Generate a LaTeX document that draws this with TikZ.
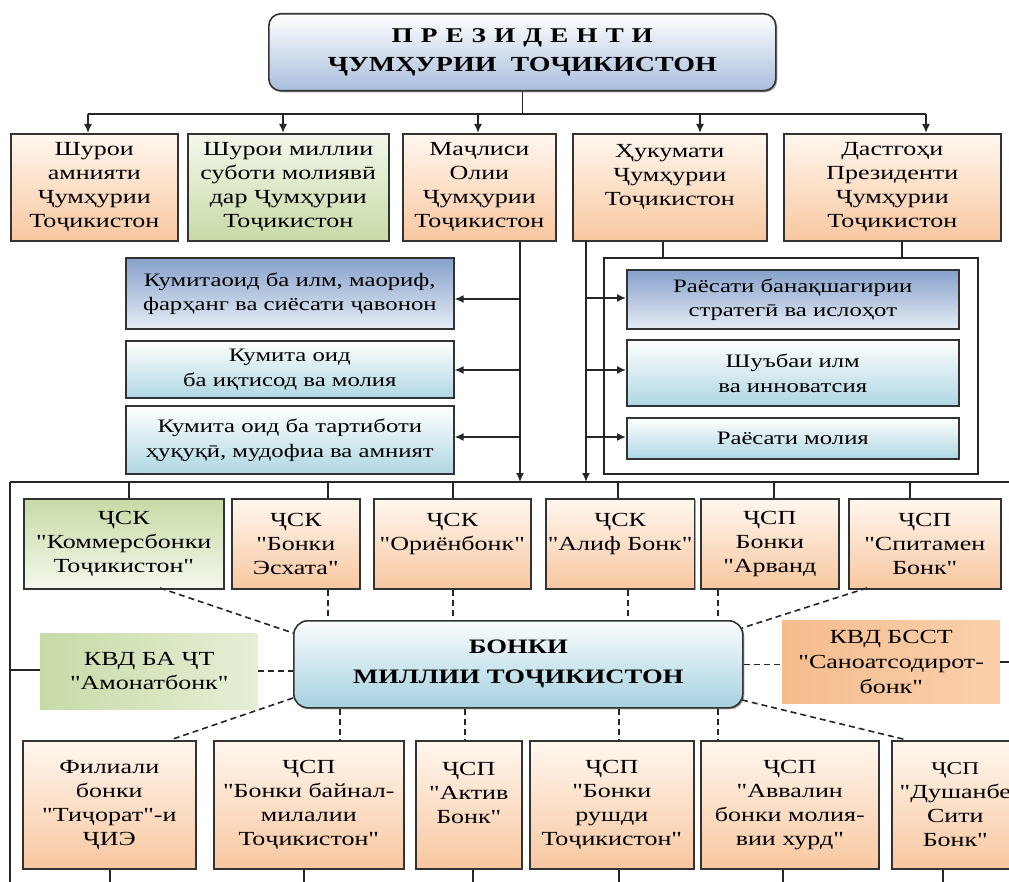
\documentclass[tikz,border=0pt]{standalone}
\usepackage{fontspec}
\setmainfont{Liberation Serif}[FakeStretch=1.3, Ligatures=TeXOff]
\usetikzlibrary{arrows.meta,shadows}
\definecolor{orT}{HTML}{FFF7EF}
\definecolor{orB}{HTML}{F8C7A0}
\definecolor{grT}{HTML}{F4F8EC}
\definecolor{grB}{HTML}{C7DAA6}
\definecolor{dbT}{HTML}{86A1CB}
\definecolor{dbB}{HTML}{E6ECF5}
\definecolor{lbB}{HTML}{AFD7E3}
\definecolor{cnB}{HTML}{A6D1E1}
\definecolor{ttB}{HTML}{A9BEDD}
\definecolor{saL}{HTML}{F6BC8E}
\definecolor{saR}{HTML}{FAD0AC}
\tikzset{
  box/.style={draw=black!80, line width=1.6pt, align=center, inner sep=2pt,
    font=\fontsize{20}{24}\selectfont,
    drop shadow={shadow xshift=1.5pt, shadow yshift=-1.5pt, fill=black, opacity=0.35}},
  orangebox/.style={box, top color=orT, bottom color=orB},
  greenbox/.style={box, top color=grT, bottom color=grB},
  greentop/.style={box, top color=grB, bottom color=grT},
  dbluebox/.style={box, top color=dbT, bottom color=dbB, font=\fontsize{19}{24}\selectfont},
  lbluebox/.style={box, top color=white, bottom color=lbB, font=\fontsize{19}{25}\selectfont},
  titlebox/.style={box, rounded corners=12pt, top color=white, bottom color=ttB},
  centralbox/.style={box, rounded corners=14pt, top color=white!95!lbB, bottom color=cnB,
    font=\fontsize{20.5}{30}\selectfont\bfseries},
  greenflat/.style={align=center, inner sep=2pt, font=\fontsize{20}{24}\selectfont,
    left color=grB, right color=grT!70!grB},
  orangeflat/.style={align=center, inner sep=2pt, font=\fontsize{20}{25}\selectfont,
    left color=saL, right color=saR},
  contbox/.style={draw=black!85, line width=1.6pt},
  conn/.style={line width=1.6pt, draw=black!85},
  arr/.style={conn, -{Latex[length=9pt,width=8pt]}},
  dconn/.style={conn, dash pattern=on 6pt off 4pt},
}
\newcommand\bx[7]{\pgfmathsetmacro\bxw{#4-#2}\pgfmathsetmacro\bxh{#5-#3}%
  \node[#6, minimum width=\bxw pt, minimum height=\bxh pt, anchor=north west] (#1) at (#2,#3) {#7};}
\newcommand\ls{\hspace{0.38em}}
\begin{document}
\begin{tikzpicture}[x=1pt,y=-1pt]
\clip (0,0) rectangle (1009,882);
\fill[white] (0,0) rectangle (1009,882);
% title
\bx{pres}{268}{13}{775}{90}{titlebox}{{\fontsize{21}{24}\selectfont\bfseries П\ls Р\ls Е\ls З\ls И\ls Д\ls Е\ls Н\ls Т\ls И}\\[5pt]{\fontsize{21.5}{26}\selectfont\bfseries ҶУМҲУРИИ\ \ ТОҶИКИСТОН}}
% row 1
\bx{A}{10}{133}{177}{240}{orangebox}{Шурои\\амнияти\\Ҷумҳурии\\Тоҷикистон}
\bx{B}{187}{133}{388}{240}{greenbox}{Шурои миллии\\суботи молиявӣ\\дар Ҷумҳурии\\Тоҷикистон}
\bx{C}{402}{133}{555}{240}{orangebox}{Маҷлиси\\Олии\\Ҷумҳурии\\Тоҷикистон}
\bx{D}{572}{133}{766}{240}{orangebox}{Ҳукумати\\Ҷумҳурии\\Тоҷикистон\\\mbox{}}
\bx{E}{783}{133}{1000}{240}{orangebox}{Дастгоҳи\\Президенти\\Ҷумҳурии\\Тоҷикистон}
% top connectors
\coordinate (hL) at (88,114);
\coordinate (hR) at (926,114);
\coordinate (a2) at (283,114);
\coordinate (a3) at (478,114);
\coordinate (a4) at (700,114);
\draw[conn] (pres.south) -- (pres.south |- hL);
\draw[conn] (hL) -- (hR);
\draw[arr] (hL) -- (hL |- A.north);
\draw[arr] (a2) -- (a2 |- B.north);
\draw[arr] (a3) -- (a3 |- C.north);
\draw[arr] (a4) -- (a4 |- D.north);
\draw[arr] (hR) -- (hR |- E.north);
% committees
\bx{K1}{125}{257}{453}{328}{dbluebox}{Кумитаоид ба илм, маориф,\\фарҳанг ва сиёсати ҷавонон}
\bx{K2}{125}{340}{453}{397}{lbluebox}{Кумита оид\\ба иқтисод ва молия}
\bx{K3}{125}{405}{453}{473}{lbluebox}{Кумита оид ба тартиботи\\ҳуқуқӣ, мудофиа ва амният}
% container and departments
\bx{cont}{603}{257}{977}{473}{contbox}{}
\bx{R1}{626}{269}{958}{328}{dbluebox}{Раёсати банақшагирии\\стратегӣ ва ислоҳот}
\bx{R2}{626}{339}{958}{405}{lbluebox}{Шуъбаи илм\\ва инноватсия}
\bx{R3}{626}{417}{958}{458}{lbluebox}{Раёсати молия}
% vertical lines
\coordinate (mx) at (520,482);
\coordinate (hx) at (586,482);
\draw[arr] (C.south -| mx) -- (mx);
\draw[arr] (D.south -| hx) -- (hx);
\coordinate (d1) at (663,250);
\coordinate (e1) at (902,250);
\draw[conn] (D.south -| d1) -- (cont.north -| d1);
\draw[conn] (E.south -| e1) -- (cont.north -| e1);
\coordinate (k1) at (520,299);
\coordinate (k2) at (520,370);
\coordinate (k3) at (520,437);
\draw[arr] (k1) -- (k1 -| K1.east);
\draw[arr] (k2) -- (k2 -| K2.east);
\draw[arr] (k3) -- (k3 -| K3.east);
\coordinate (r1) at (586,298);
\coordinate (r2) at (586,370);
\coordinate (r3) at (586,437);
\draw[arr] (r1) -- (r1 -| R1.west);
\draw[arr] (r2) -- (r2 -| R2.west);
\draw[arr] (r3) -- (r3 -| R3.west);
% main bus
\coordinate (bl) at (10,482);
\coordinate (br) at (1009,482);
\coordinate (bb) at (10,882);
\draw[conn] (bl) -- (br);
\draw[conn] (bl) -- (bb);
% row 2
\bx{P1}{23}{498}{223}{588}{greentop}{ҶСК\\"Коммерсбонки\\Тоҷикистон"}
\bx{P2}{231}{498}{359}{588}{orangebox}{ҶСК\\"Бонки\\Эсхата"}
\bx{P3}{373}{498}{530}{588}{orangebox}{ҶСК\\"Ориёнбонк"\\\mbox{}}
\bx{P4}{545}{498}{692}{588}{orangebox}{ҶСК\\"Алиф Бонк"\\\mbox{}}
\bx{P5}{700}{498}{838}{588}{orangebox}{ҶСП\\Бонки\\"Арванд}
\bx{P6}{848}{498}{1000}{588}{orangebox}{ҶСП\\"Спитамен\\Бонк"}
\coordinate (p1) at (129,482);
\coordinate (p2) at (328,482);
\coordinate (p3) at (453,482);
\coordinate (p4) at (618,482);
\coordinate (p5) at (774,482);
\coordinate (p6) at (910,482);
\draw[conn] (p1) -- (p1 |- P1.north);
\draw[conn] (p2) -- (p2 |- P2.north);
\draw[conn] (p3) -- (p3 |- P3.north);
\draw[conn] (p4) -- (p4 |- P4.north);
\draw[conn] (p5) -- (p5 |- P5.north);
\draw[conn] (p6) -- (p6 |- P6.north);
% central
\bx{nb}{293}{620}{742}{707}{centralbox}{БОНКИ\\МИЛЛИИ ТОҶИКИСТОН}
\bx{am}{40}{633}{258}{709}{greenflat}{КВД БА ҶТ\\"Амонатбонк"}
\bx{sb}{782}{620}{1000}{703}{orangeflat}{КВД БССТ\\"Саноатсодирот-\\бонк"}
\coordinate (al) at (10,670);
\coordinate (re) at (1009,662);
\draw[conn] (al) -- (al -| am.west);
\draw[dconn] (am.east) -- (am.east -| nb.west);
\draw[dconn] (nb.east) -- (nb.east -| sb.west);
\draw[conn] (sb.east) -- (sb.east -| re);
% dashed upper
\coordinate (u1) at (160,588);
\coordinate (u1b) at (293,633);
\coordinate (u6) at (867,588);
\coordinate (u6b) at (742,628);
\coordinate (v2) at (328,600);
\coordinate (v3) at (453,600);
\coordinate (v4) at (628,600);
\coordinate (v5) at (718,600);
\draw[dconn] (u1) -- (u1b);
\draw[dconn] (u6) -- (u6b);
\draw[dconn] (P2.south -| v2) -- (nb.north -| v2);
\draw[dconn] (P3.south -| v3) -- (nb.north -| v3);
\draw[dconn] (P4.south -| v4) -- (nb.north -| v4);
\draw[dconn] (P5.south -| v5) -- (nb.north -| v5);
% row 3
\bx{Q1}{22}{740}{195}{868}{orangebox}{Филиали\\бонки\\"Тиҷорат"-и\\ҶИЭ}
\bx{Q2}{213}{740}{403}{868}{orangebox}{ҶСП\\"Бонки байнал-\\милалии\\Тоҷикистон"}
\bx{Q3}{415}{740}{521}{868}{orangebox}{ҶСП\\"Актив\\Бонк"\\\mbox{}}
\bx{Q4}{529}{740}{693}{868}{orangebox}{ҶСП\\"Бонки\\рушди\\Тоҷикистон"}
\bx{Q5}{700}{740}{878}{868}{orangebox}{ҶСП\\"Аввалин\\бонки молия-\\вии хурд"}
\bx{Q6}{891}{740}{1018}{868}{orangebox}{\fontsize{18}{24}\selectfont ҶСП\\"Душанбе\\Сити\\Бонк"}
\coordinate (w1) at (110,882);
\coordinate (w2) at (304,882);
\coordinate (w3) at (473,882);
\coordinate (w4) at (619,882);
\coordinate (w5) at (783,882);
\coordinate (w6) at (943,882);
\draw[conn] (Q1.south -| w1) -- (w1);
\draw[conn] (Q2.south -| w2) -- (w2);
\draw[conn] (Q3.south -| w3) -- (w3);
\draw[conn] (Q4.south -| w4) -- (w4);
\draw[conn] (Q5.south -| w5) -- (w5);
\draw[conn] (Q6.south -| w6) -- (w6);
% dashed lower
\coordinate (l1) at (293,698);
\coordinate (l1b) at (170,740);
\coordinate (l6) at (742,700);
\coordinate (l6b) at (907,740);
\coordinate (x2) at (340,720);
\coordinate (x3) at (465,720);
\coordinate (x4) at (619,720);
\coordinate (x5) at (718,720);
\draw[dconn] (l1) -- (l1b);
\draw[dconn] (l6) -- (l6b);
\draw[dconn] (nb.south -| x2) -- (Q2.north -| x2);
\draw[dconn] (nb.south -| x3) -- (Q3.north -| x3);
\draw[dconn] (nb.south -| x4) -- (Q4.north -| x4);
\draw[dconn] (nb.south -| x5) -- (Q5.north -| x5);
\end{tikzpicture}
\end{document}
